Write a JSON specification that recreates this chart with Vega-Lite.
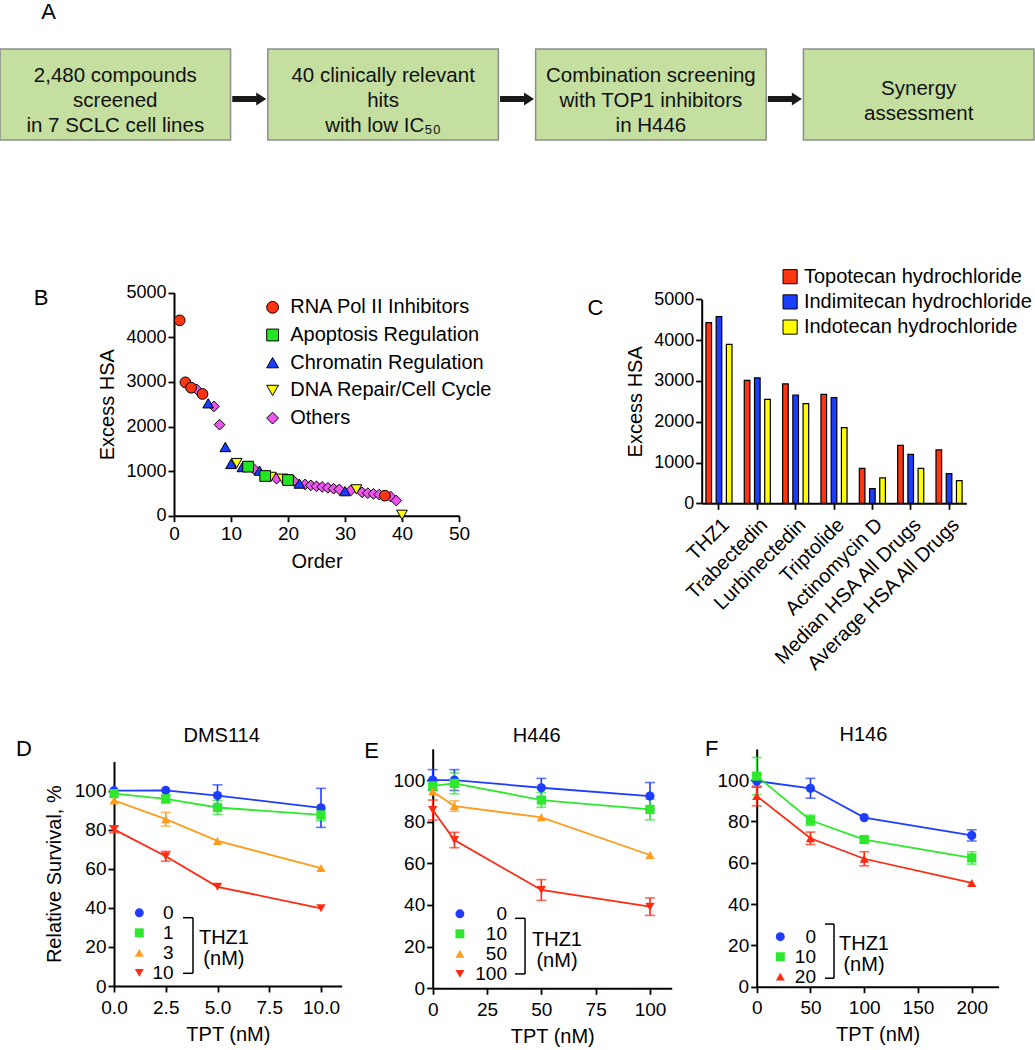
{
"$schema": "https://vega.github.io/schema/vega-lite/v6.json",
"width": 1035, "height": 1050,
"autosize": {"type": "none"},
"padding": 0,
"background": "white",
"config": {
  "view": {"stroke": null},
  "font": "Liberation Sans",
  "axis": {"domainColor": "black", "domainWidth": 2, "tickColor": "black", "tickWidth": 1.8, "tickSize": 6, "labelColor": "black", "titleColor": "black", "labelFont": "Liberation Sans", "titleFont": "Liberation Sans", "labelFontSize": 19, "titleFontSize": 20, "titleFontWeight": "normal", "grid": false, "labelPadding": 2, "labelFlush": false, "labelOverlap": false, "labelLimit": 400},
  "legend": {"labelFont": "Liberation Sans", "labelColor": "black", "padding": 0, "labelFontSize": 20, "labelLimit": 400, "symbolOpacity": 1},
  "text": {"font": "Liberation Sans", "color": "black"}
},
"datasets": {
  "flow": [
    {"step": "s1", "label": "2,480 compounds\nscreened\nin 7 SCLC cell lines"},
    {"step": "s2", "label": "40 clinically relevant\nhits\nwith low IC₅₀"},
    {"step": "s3", "label": "Combination screening\nwith TOP1 inhibitors\nin H446"},
    {"step": "s4", "label": "Synergy\nassessment"}
  ],
  "hits": [
    {"order": 4, "hsa": 2830, "cls": "Others"},
    {"order": 7, "hsa": 2450, "cls": "Others"},
    {"order": 8, "hsa": 2040, "cls": "Others"},
    {"order": 14, "hsa": 1050, "cls": "Others"},
    {"order": 18, "hsa": 830, "cls": "Others"},
    {"order": 21, "hsa": 780, "cls": "Others"},
    {"order": 23, "hsa": 700, "cls": "Others"},
    {"order": 24, "hsa": 680, "cls": "Others"},
    {"order": 25, "hsa": 660, "cls": "Others"},
    {"order": 26, "hsa": 645, "cls": "Others"},
    {"order": 27, "hsa": 625, "cls": "Others"},
    {"order": 28, "hsa": 605, "cls": "Others"},
    {"order": 29, "hsa": 590, "cls": "Others"},
    {"order": 31, "hsa": 565, "cls": "Others"},
    {"order": 33, "hsa": 525, "cls": "Others"},
    {"order": 34, "hsa": 505, "cls": "Others"},
    {"order": 35, "hsa": 490, "cls": "Others"},
    {"order": 36, "hsa": 475, "cls": "Others"},
    {"order": 38, "hsa": 430, "cls": "Others"},
    {"order": 39, "hsa": 340, "cls": "Others"},
    {"order": 11, "hsa": 1180, "cls": "DNA Repair/Cell Cycle"},
    {"order": 17, "hsa": 870, "cls": "DNA Repair/Cell Cycle"},
    {"order": 19, "hsa": 830, "cls": "DNA Repair/Cell Cycle"},
    {"order": 32, "hsa": 590, "cls": "DNA Repair/Cell Cycle"},
    {"order": 40, "hsa": 20, "cls": "DNA Repair/Cell Cycle"},
    {"order": 6, "hsa": 2520, "cls": "Chromatin Regulation"},
    {"order": 9, "hsa": 1540, "cls": "Chromatin Regulation"},
    {"order": 10, "hsa": 1160, "cls": "Chromatin Regulation"},
    {"order": 12, "hsa": 1090, "cls": "Chromatin Regulation"},
    {"order": 15, "hsa": 1010, "cls": "Chromatin Regulation"},
    {"order": 22, "hsa": 720, "cls": "Chromatin Regulation"},
    {"order": 30, "hsa": 550, "cls": "Chromatin Regulation"},
    {"order": 13, "hsa": 1100, "cls": "Apoptosis Regulation"},
    {"order": 16, "hsa": 890, "cls": "Apoptosis Regulation"},
    {"order": 20, "hsa": 800, "cls": "Apoptosis Regulation"},
    {"order": 1, "hsa": 4380, "cls": "RNA Pol II Inhibitors"},
    {"order": 2, "hsa": 2990, "cls": "RNA Pol II Inhibitors"},
    {"order": 3, "hsa": 2870, "cls": "RNA Pol II Inhibitors"},
    {"order": 5, "hsa": 2730, "cls": "RNA Pol II Inhibitors"},
    {"order": 37, "hsa": 450, "cls": "RNA Pol II Inhibitors"}
  ],
  "synergy": [
    {"drug": "THZ1", "inhibitor": "Topotecan hydrochloride", "hsa": 4428},
    {"drug": "THZ1", "inhibitor": "Indimitecan hydrochloride", "hsa": 4575},
    {"drug": "THZ1", "inhibitor": "Indotecan hydrochloride", "hsa": 3897},
    {"drug": "Trabectedin", "inhibitor": "Topotecan hydrochloride", "hsa": 3015},
    {"drug": "Trabectedin", "inhibitor": "Indimitecan hydrochloride", "hsa": 3072},
    {"drug": "Trabectedin", "inhibitor": "Indotecan hydrochloride", "hsa": 2549},
    {"drug": "Lurbinectedin", "inhibitor": "Topotecan hydrochloride", "hsa": 2925},
    {"drug": "Lurbinectedin", "inhibitor": "Indimitecan hydrochloride", "hsa": 2655},
    {"drug": "Lurbinectedin", "inhibitor": "Indotecan hydrochloride", "hsa": 2443},
    {"drug": "Triptolide", "inhibitor": "Topotecan hydrochloride", "hsa": 2672},
    {"drug": "Triptolide", "inhibitor": "Indimitecan hydrochloride", "hsa": 2590},
    {"drug": "Triptolide", "inhibitor": "Indotecan hydrochloride", "hsa": 1855},
    {"drug": "Actinomycin D", "inhibitor": "Topotecan hydrochloride", "hsa": 858},
    {"drug": "Actinomycin D", "inhibitor": "Indimitecan hydrochloride", "hsa": 359},
    {"drug": "Actinomycin D", "inhibitor": "Indotecan hydrochloride", "hsa": 621},
    {"drug": "Median HSA All Drugs", "inhibitor": "Topotecan hydrochloride", "hsa": 1422},
    {"drug": "Median HSA All Drugs", "inhibitor": "Indimitecan hydrochloride", "hsa": 1201},
    {"drug": "Median HSA All Drugs", "inhibitor": "Indotecan hydrochloride", "hsa": 858},
    {"drug": "Average HSA All Drugs", "inhibitor": "Topotecan hydrochloride", "hsa": 1307},
    {"drug": "Average HSA All Drugs", "inhibitor": "Indimitecan hydrochloride", "hsa": 727},
    {"drug": "Average HSA All Drugs", "inhibitor": "Indotecan hydrochloride", "hsa": 556}
  ],
  "dms114": [
    {"tpt": 0, "thz": "0", "surv": 100, "err": 0},
    {"tpt": 2.5, "thz": "0", "surv": 100.2, "err": 0},
    {"tpt": 5, "thz": "0", "surv": 97.5, "err": 5.5},
    {"tpt": 10, "thz": "0", "surv": 91.2, "err": 10},
    {"tpt": 0, "thz": "1", "surv": 98.5, "err": 0},
    {"tpt": 2.5, "thz": "1", "surv": 95.8, "err": 2},
    {"tpt": 5, "thz": "1", "surv": 91.4, "err": 3.5},
    {"tpt": 10, "thz": "1", "surv": 87.6, "err": 3},
    {"tpt": 0, "thz": "3", "surv": 95, "err": 0},
    {"tpt": 2.5, "thz": "3", "surv": 85.4, "err": 3.5},
    {"tpt": 5, "thz": "3", "surv": 74.3, "err": 0},
    {"tpt": 10, "thz": "3", "surv": 60.4, "err": 0},
    {"tpt": 0, "thz": "10", "surv": 80.2, "err": 1.8},
    {"tpt": 2.5, "thz": "10", "surv": 66.4, "err": 2.5},
    {"tpt": 5, "thz": "10", "surv": 50.8, "err": 0},
    {"tpt": 10, "thz": "10", "surv": 39.8, "err": 0}
  ],
  "h446": [
    {"tpt": 0, "thz": "0", "surv": 100, "err": 5},
    {"tpt": 10, "thz": "0", "surv": 100, "err": 5},
    {"tpt": 50, "thz": "0", "surv": 96.3, "err": 4.5},
    {"tpt": 100, "thz": "0", "surv": 92.3, "err": 6.5},
    {"tpt": 0, "thz": "10", "surv": 97.2, "err": 2},
    {"tpt": 10, "thz": "10", "surv": 98.4, "err": 5},
    {"tpt": 50, "thz": "10", "surv": 90.4, "err": 3.5},
    {"tpt": 100, "thz": "10", "surv": 85.9, "err": 5},
    {"tpt": 0, "thz": "50", "surv": 94.5, "err": 0},
    {"tpt": 10, "thz": "50", "surv": 87.5, "err": 2.5},
    {"tpt": 50, "thz": "50", "surv": 82.1, "err": 0},
    {"tpt": 100, "thz": "50", "surv": 64, "err": 0},
    {"tpt": 0, "thz": "100", "surv": 85.6, "err": 4.8},
    {"tpt": 10, "thz": "100", "surv": 71.2, "err": 3.7},
    {"tpt": 50, "thz": "100", "surv": 47.2, "err": 5},
    {"tpt": 100, "thz": "100", "surv": 39.2, "err": 4.2}
  ],
  "h146": [
    {"tpt": 0, "thz": "0", "surv": 99.5, "err": 3},
    {"tpt": 50, "thz": "0", "surv": 96, "err": 4.8},
    {"tpt": 100, "thz": "0", "surv": 81.8, "err": 0},
    {"tpt": 200, "thz": "0", "surv": 73.2, "err": 2.7},
    {"tpt": 0, "thz": "10", "surv": 101.9, "err": 9},
    {"tpt": 50, "thz": "10", "surv": 80.5, "err": 2.5},
    {"tpt": 100, "thz": "10", "surv": 71.2, "err": 1.5},
    {"tpt": 200, "thz": "10", "surv": 62.3, "err": 3},
    {"tpt": 0, "thz": "20", "surv": 92.3, "err": 4.8},
    {"tpt": 50, "thz": "20", "surv": 71.8, "err": 3},
    {"tpt": 100, "thz": "20", "surv": 61.9, "err": 3.4},
    {"tpt": 200, "thz": "20", "surv": 50.2, "err": 0}
  ]
},
"resolve": {
  "scale": {"x": "independent", "y": "independent", "color": "independent", "shape": "independent"},
  "axis": {"x": "independent", "y": "independent"},
  "legend": {"color": "independent", "shape": "independent"}
},
"layer": [
  {
    "data": {"name": "flow"},
    "layer": [
      {
        "mark": {"type": "bar", "fill": "#c4df9f", "stroke": "#8e8e8e", "strokeWidth": 1.5},
        "encoding": {
          "x": {"field": "step", "type": "nominal", "axis": null, "scale": {"type": "band", "domain": ["s1", "s2", "s3", "s4"], "range": [0, 1034], "paddingInner": 0.139, "paddingOuter": 0}},
          "y": {"datum": 0, "type": "quantitative", "axis": null, "scale": {"domain": [0, 1], "range": [140, 49], "nice": false, "zero": false}},
          "y2": {"datum": 1}
        }
      },
      {
        "transform": [{"filter": "datum.step != 's4'"}],
        "mark": {"type": "text", "fontSize": 20.5, "lineBreak": "\n", "lineHeight": 25, "baseline": "middle", "align": "center", "color": "#111111"},
        "encoding": {"x": {"field": "step", "type": "nominal"}, "text": {"field": "label"}, "y": {"datum": 0.701, "type": "quantitative"}}
      },
      {
        "transform": [{"filter": "datum.step == 's4'"}],
        "mark": {"type": "text", "fontSize": 20.5, "lineBreak": "\n", "lineHeight": 25, "baseline": "middle", "align": "center", "color": "#111111"},
        "encoding": {"x": {"field": "step", "type": "nominal"}, "text": {"field": "label"}, "y": {"datum": 0.558, "type": "quantitative"}}
      },
      {
        "transform": [{"filter": "datum.step != 's4'"}],
        "mark": {"type": "point", "shape": "M-1,-0.18L0.41,-0.18L0.41,-0.38L1,0L0.41,0.38L0.41,0.18L-1,0.18Z", "size": 1156, "filled": true, "color": "#1a1a1a", "opacity": 1, "strokeWidth": 0},
        "encoding": {"x": {"field": "step", "type": "nominal", "bandPosition": 1.081}, "y": {"datum": 0.45, "type": "quantitative"}}
      },
      {
        "data": {"values": [{}]},
        "mark": {"type": "text", "text": "A", "fontSize": 22, "dx": 48.5, "baseline": "middle", "align": "center"},
        "encoding": {"x": {"datum": "s1", "type": "nominal", "bandPosition": 0}, "y": {"datum": 1.4066, "type": "quantitative"}}
      }
    ]
  },
  {
    "data": {"name": "hits"},
    "layer": [
      {
        "mark": {"type": "point", "filled": true, "stroke": "black", "strokeWidth": 1, "size": 115, "opacity": 1},
        "encoding": {
          "x": {"field": "order", "type": "quantitative", "scale": {"domain": [0, 50], "range": [174, 459], "nice": false, "zero": false},
                "axis": {"orient": "bottom", "offset": -534.3, "values": [0, 10, 20, 30, 40, 50], "title": "Order", "labelPadding": 3, "titlePadding": 8, "labelFontSize": 19}},
          "y": {"field": "hsa", "type": "quantitative", "scale": {"domain": [0, 5000], "range": [515.7, 292.7], "nice": false},
                "axis": {"orient": "left", "offset": -174, "values": [0, 1000, 2000, 3000, 4000, 5000], "format": "d", "title": "Excess  HSA", "titlePadding": 8, "labelFontSize": 18}},
          "color": {"field": "cls", "type": "nominal",
            "scale": {"domain": ["RNA Pol II Inhibitors", "Apoptosis Regulation", "Chromatin Regulation", "DNA Repair/Cell Cycle", "Others"], "range": ["#ff3511", "#22e622", "#1a3dff", "#ffff00", "#ee55ee"]},
            "legend": {"orient": "none", "legendX": 262.6, "legendY": 297.3, "title": null, "labelFontSize": 20, "symbolSize": 140, "labelOffset": 7.6, "rowPadding": 7.7, "symbolStrokeColor": "black", "symbolStrokeWidth": 1}},
          "shape": {"field": "cls", "type": "nominal",
            "scale": {"domain": ["RNA Pol II Inhibitors", "Apoptosis Regulation", "Chromatin Regulation", "DNA Repair/Cell Cycle", "Others"], "range": ["circle", "square", "triangle-up", "triangle-down", "diamond"]}}
        }
      },
      {
        "data": {"values": [{}]},
        "mark": {"type": "text", "text": "B", "fontSize": 22, "baseline": "middle", "align": "center"},
        "encoding": {"x": {"datum": -23.33, "type": "quantitative"}, "y": {"datum": 4888, "type": "quantitative"}}
      }
    ]
  },
  {
    "data": {"name": "synergy"},
    "layer": [
      {
        "mark": {"type": "bar", "stroke": "black", "strokeWidth": 1.2},
        "encoding": {
          "x": {"field": "drug", "type": "nominal",
                "scale": {"type": "band", "domain": ["THZ1", "Trabectedin", "Lurbinectedin", "Triptolide", "Actinomycin D", "Median HSA All Drugs", "Average HSA All Drugs"], "range": [701.7, 966.3], "paddingInner": 0.2, "paddingOuter": 0.05},
                "axis": {"orient": "bottom", "offset": -546.7, "title": null, "labelAngle": -45, "labelFontSize": 20, "labelPadding": 5}},
          "y": {"field": "hsa", "type": "quantitative", "scale": {"domain": [0, 5000], "range": [503.3, 299.3], "nice": false},
                "axis": {"orient": "left", "offset": -701.7, "values": [0, 1000, 2000, 3000, 4000, 5000], "format": "d", "title": "Excess  HSA", "titlePadding": 8, "labelFontSize": 18}},
          "xOffset": {"field": "inhibitor", "type": "nominal", "scale": {"domain": ["Topotecan hydrochloride", "Indimitecan hydrochloride", "Indotecan hydrochloride"], "paddingInner": 0.45, "paddingOuter": 0.225}},
          "color": {"field": "inhibitor", "type": "nominal",
            "scale": {"domain": ["Topotecan hydrochloride", "Indimitecan hydrochloride", "Indotecan hydrochloride"], "range": ["#ff3511", "#1a3dff", "#ffff00"]},
            "legend": {"orient": "none", "legendX": 780.1, "legendY": 266.7, "title": null, "labelFontSize": 20, "symbolType": "square", "symbolSize": 200, "labelOffset": 3.8, "rowPadding": 5.2, "symbolStrokeColor": "black", "symbolStrokeWidth": 1}}
        }
      },
      {
        "data": {"values": [{}]},
        "mark": {"type": "text", "text": "C", "fontSize": 22, "baseline": "middle", "align": "center", "dx": -123.5},
        "encoding": {"x": {"datum": "THZ1", "type": "nominal"}, "y": {"datum": 4794, "type": "quantitative"}}
      }
    ]
  },
  {
    "data": {"name": "dms114"},
    "layer": [
      {"mark": {"type": "line", "strokeWidth": 1.8},
       "encoding": {
         "x": {"field": "tpt", "type": "quantitative", "title": "TPT (nM)", "scale": {"domain": [0, 11], "range": [114, 341.7], "nice": false, "zero": false},
               "axis": {"orient": "bottom", "offset": -64, "values": [0, 2.5, 5, 7.5, 10], "format": ".1f", "title": "TPT (nM)", "labelPadding": 6, "titlePadding": 7}},
         "y": {"field": "surv", "type": "quantitative", "title": "Relative Survival, %", "scale": {"domain": [0, 115], "range": [986, 761.4], "nice": false},
               "axis": {"orient": "left", "offset": -114, "values": [0, 20, 40, 60, 80, 100], "title": "Relative Survival, %", "titlePadding": 10}},
         "color": {"field": "thz", "type": "nominal", "scale": {"domain": ["0", "1", "3", "10"], "range": ["#1f3dff", "#2ee82e", "#ff9c1c", "#ff2a12"]},
           "legend": {"orient": "none", "legendX": 129.8, "legendY": 903.3, "title": null, "labelFontSize": 19, "labelAlign": "right", "labelOffset": 24.8, "rowPadding": -0.6, "symbolSize": 80, "symbolStrokeWidth": 0}}}},
      {"transform": [{"filter": "datum.err > 0"}],
       "mark": {"type": "errorbar", "thickness": 1.6, "ticks": {"size": 10, "thickness": 1.6}},
       "encoding": {"x": {"field": "tpt", "type": "quantitative", "title": "TPT (nM)"}, "y": {"field": "surv", "type": "quantitative", "title": "Relative Survival, %"}, "yError": {"field": "err"},
         "color": {"field": "thz", "type": "nominal",
           "legend": {"orient": "none", "legendX": 129.8, "legendY": 903.3, "title": null, "labelFontSize": 19, "labelAlign": "right", "labelOffset": 24.8, "rowPadding": -0.6, "symbolSize": 80, "symbolStrokeWidth": 0}}}},
      {"mark": {"type": "point", "filled": true, "opacity": 1, "size": 85},
       "encoding": {"x": {"field": "tpt", "type": "quantitative", "title": "TPT (nM)"}, "y": {"field": "surv", "type": "quantitative", "title": "Relative Survival, %"},
         "color": {"field": "thz", "type": "nominal", "legend": {"orient": "none", "legendX": 129.8, "legendY": 903.3, "title": null, "labelFontSize": 19, "labelAlign": "right", "labelOffset": 24.8, "rowPadding": -0.6, "symbolSize": 80, "symbolStrokeWidth": 0}},
         "shape": {"field": "thz", "type": "nominal", "scale": {"domain": ["0", "1", "3", "10"], "range": ["circle", "square", "triangle-up", "triangle-down"]},
           "legend": {"orient": "none", "legendX": 129.8, "legendY": 903.3, "title": null, "labelFontSize": 19, "labelAlign": "right", "labelOffset": 24.8, "rowPadding": -0.6, "symbolSize": 80, "symbolStrokeWidth": 0}}}},
      {"data": {"values": [{}]}, "mark": {"type": "rule", "strokeWidth": 1.5, "color": "black"},
       "encoding": {"x": {"datum": 3.816, "type": "quantitative"}, "y": {"datum": 34.97, "type": "quantitative"}, "y2": {"datum": 6.5}}},
      {"data": {"values": [{}]}, "mark": {"type": "rule", "strokeWidth": 1.5, "color": "black"},
       "encoding": {"x": {"datum": 3.333, "type": "quantitative"}, "x2": {"datum": 3.816}, "y": {"datum": 34.97, "type": "quantitative"}}},
      {"data": {"values": [{}]}, "mark": {"type": "rule", "strokeWidth": 1.5, "color": "black"},
       "encoding": {"x": {"datum": 3.333, "type": "quantitative"}, "x2": {"datum": 3.816}, "y": {"datum": 6.5, "type": "quantitative"}}},
      {"data": {"values": [{}]}, "mark": {"type": "text", "text": "THZ1\n(nM)", "lineBreak": "\n", "lineHeight": 21, "fontSize": 20, "align": "center", "baseline": "middle"},
       "encoding": {"x": {"datum": 5.31, "type": "quantitative"}, "y": {"datum": 24.6, "type": "quantitative"}}},
      {"data": {"values": [{}]}, "mark": {"type": "text", "text": "DMS114", "fontSize": 20, "align": "center", "baseline": "middle"},
       "encoding": {"x": {"datum": 5.2, "type": "quantitative"}, "y": {"datum": 127.9, "type": "quantitative"}}},
      {"data": {"values": [{}]}, "mark": {"type": "text", "text": "D", "fontSize": 22, "align": "center", "baseline": "middle"},
       "encoding": {"x": {"datum": -4.35, "type": "quantitative"}, "y": {"datum": 121.2, "type": "quantitative"}}}
    ]
  },
  {
    "data": {"name": "h446"},
    "layer": [
      {"mark": {"type": "line", "strokeWidth": 1.8},
       "encoding": {
         "x": {"field": "tpt", "type": "quantitative", "title": "TPT (nM)", "scale": {"domain": [0, 110], "range": [432.7, 671.7], "nice": false, "zero": false},
               "axis": {"orient": "bottom", "offset": -61.7, "values": [0, 25, 50, 75, 100], "title": "TPT (nM)", "labelPadding": 6, "titlePadding": 7}},
         "y": {"field": "surv", "type": "quantitative", "title": null, "scale": {"domain": [0, 115], "range": [988.3, 748.8], "nice": false},
               "axis": {"orient": "left", "offset": -432.7, "values": [0, 20, 40, 60, 80, 100], "title": null}},
         "color": {"field": "thz", "type": "nominal", "scale": {"domain": ["0", "10", "50", "100"], "range": ["#1f3dff", "#2ee82e", "#ff9c1c", "#ff2a12"]},
           "legend": {"orient": "none", "legendX": 450.4, "legendY": 904.3, "title": null, "labelFontSize": 19, "labelAlign": "right", "labelOffset": 37.6, "rowPadding": -0.5, "symbolSize": 80, "symbolStrokeWidth": 0}}}},
      {"transform": [{"filter": "datum.err > 0"}],
       "mark": {"type": "errorbar", "thickness": 1.6, "ticks": {"size": 10, "thickness": 1.6}},
       "encoding": {"x": {"field": "tpt", "type": "quantitative", "title": "TPT (nM)"}, "y": {"field": "surv", "type": "quantitative", "title": null}, "yError": {"field": "err"},
         "color": {"field": "thz", "type": "nominal",
           "legend": {"orient": "none", "legendX": 450.4, "legendY": 904.3, "title": null, "labelFontSize": 19, "labelAlign": "right", "labelOffset": 37.6, "rowPadding": -0.5, "symbolSize": 80, "symbolStrokeWidth": 0}}}},
      {"mark": {"type": "point", "filled": true, "opacity": 1, "size": 85},
       "encoding": {"x": {"field": "tpt", "type": "quantitative", "title": "TPT (nM)"}, "y": {"field": "surv", "type": "quantitative", "title": null},
         "color": {"field": "thz", "type": "nominal", "legend": {"orient": "none", "legendX": 450.4, "legendY": 904.3, "title": null, "labelFontSize": 19, "labelAlign": "right", "labelOffset": 37.6, "rowPadding": -0.5, "symbolSize": 80, "symbolStrokeWidth": 0}},
         "shape": {"field": "thz", "type": "nominal", "scale": {"domain": ["0", "10", "50", "100"], "range": ["circle", "square", "triangle-up", "triangle-down"]},
           "legend": {"orient": "none", "legendX": 450.4, "legendY": 904.3, "title": null, "labelFontSize": 19, "labelAlign": "right", "labelOffset": 37.6, "rowPadding": -0.5, "symbolSize": 80, "symbolStrokeWidth": 0}}}},
      {"data": {"values": [{}]}, "mark": {"type": "rule", "strokeWidth": 1.5, "color": "black"},
       "encoding": {"x": {"datum": 42.5, "type": "quantitative"}, "y": {"datum": 33.6, "type": "quantitative"}, "y2": {"datum": 6.9}}},
      {"data": {"values": [{}]}, "mark": {"type": "rule", "strokeWidth": 1.5, "color": "black"},
       "encoding": {"x": {"datum": 37.9, "type": "quantitative"}, "x2": {"datum": 42.5}, "y": {"datum": 33.6, "type": "quantitative"}}},
      {"data": {"values": [{}]}, "mark": {"type": "rule", "strokeWidth": 1.5, "color": "black"},
       "encoding": {"x": {"datum": 37.9, "type": "quantitative"}, "x2": {"datum": 42.5}, "y": {"datum": 6.9, "type": "quantitative"}}},
      {"data": {"values": [{}]}, "mark": {"type": "text", "text": "THZ1\n(nM)", "lineBreak": "\n", "lineHeight": 21, "fontSize": 20, "align": "center", "baseline": "middle"},
       "encoding": {"x": {"datum": 57.2, "type": "quantitative"}, "y": {"datum": 23.2, "type": "quantitative"}}},
      {"data": {"values": [{}]}, "mark": {"type": "text", "text": "H446", "fontSize": 20, "align": "center", "baseline": "middle"},
       "encoding": {"x": {"datum": 47.9, "type": "quantitative"}, "y": {"datum": 121.0, "type": "quantitative"}}},
      {"data": {"values": [{}]}, "mark": {"type": "text", "text": "E", "fontSize": 22, "align": "center", "baseline": "middle"},
       "encoding": {"x": {"datum": -28.1, "type": "quantitative"}, "y": {"datum": 113.8, "type": "quantitative"}}}
    ]
  },
  {
    "data": {"name": "h146"},
    "layer": [
      {"mark": {"type": "line", "strokeWidth": 1.8},
       "encoding": {
         "x": {"field": "tpt", "type": "quantitative", "title": "TPT (nM)", "scale": {"domain": [0, 225], "range": [756.7, 998.6], "nice": false, "zero": false},
               "axis": {"orient": "bottom", "offset": -63.3, "values": [0, 50, 100, 150, 200], "title": "TPT (nM)", "labelPadding": 6, "titlePadding": 7}},
         "y": {"field": "surv", "type": "quantitative", "title": null, "scale": {"domain": [0, 115], "range": [986.7, 749], "nice": false},
               "axis": {"orient": "left", "offset": -756.7, "values": [0, 20, 40, 60, 80, 100], "title": null}},
         "color": {"field": "thz", "type": "nominal", "scale": {"domain": ["0", "10", "20"], "range": ["#1f3dff", "#2ee82e", "#ff2a12"]},
           "legend": {"orient": "none", "legendX": 770.8, "legendY": 927.2, "title": null, "labelFontSize": 19, "labelAlign": "right", "labelOffset": 26.2, "rowPadding": -0.8, "symbolSize": 80, "symbolStrokeWidth": 0}}}},
      {"transform": [{"filter": "datum.err > 0"}],
       "mark": {"type": "errorbar", "thickness": 1.6, "ticks": {"size": 10, "thickness": 1.6}},
       "encoding": {"x": {"field": "tpt", "type": "quantitative", "title": "TPT (nM)"}, "y": {"field": "surv", "type": "quantitative", "title": null}, "yError": {"field": "err"},
         "color": {"field": "thz", "type": "nominal",
           "legend": {"orient": "none", "legendX": 770.8, "legendY": 927.2, "title": null, "labelFontSize": 19, "labelAlign": "right", "labelOffset": 26.2, "rowPadding": -0.8, "symbolSize": 80, "symbolStrokeWidth": 0}}}},
      {"mark": {"type": "point", "filled": true, "opacity": 1, "size": 85},
       "encoding": {"x": {"field": "tpt", "type": "quantitative", "title": "TPT (nM)"}, "y": {"field": "surv", "type": "quantitative", "title": null},
         "color": {"field": "thz", "type": "nominal", "legend": {"orient": "none", "legendX": 770.8, "legendY": 927.2, "title": null, "labelFontSize": 19, "labelAlign": "right", "labelOffset": 26.2, "rowPadding": -0.8, "symbolSize": 80, "symbolStrokeWidth": 0}},
         "shape": {"field": "thz", "type": "nominal", "scale": {"domain": ["0", "10", "20"], "range": ["circle", "square", "triangle-up"]},
           "legend": {"orient": "none", "legendX": 770.8, "legendY": 927.2, "title": null, "labelFontSize": 19, "labelAlign": "right", "labelOffset": 26.2, "rowPadding": -0.8, "symbolSize": 80, "symbolStrokeWidth": 0}}}},
      {"data": {"values": [{}]}, "mark": {"type": "rule", "strokeWidth": 1.5, "color": "black"},
       "encoding": {"x": {"datum": 71.9, "type": "quantitative"}, "y": {"datum": 30.3, "type": "quantitative"}, "y2": {"datum": 4.1}}},
      {"data": {"values": [{}]}, "mark": {"type": "rule", "strokeWidth": 1.5, "color": "black"},
       "encoding": {"x": {"datum": 63.5, "type": "quantitative"}, "x2": {"datum": 71.9}, "y": {"datum": 30.3, "type": "quantitative"}}},
      {"data": {"values": [{}]}, "mark": {"type": "rule", "strokeWidth": 1.5, "color": "black"},
       "encoding": {"x": {"datum": 63.5, "type": "quantitative"}, "x2": {"datum": 71.9}, "y": {"datum": 4.1, "type": "quantitative"}}},
      {"data": {"values": [{}]}, "mark": {"type": "text", "text": "THZ1\n(nM)", "lineBreak": "\n", "lineHeight": 21, "fontSize": 20, "align": "center", "baseline": "middle"},
       "encoding": {"x": {"datum": 99.8, "type": "quantitative"}, "y": {"datum": 20.7, "type": "quantitative"}}},
      {"data": {"values": [{}]}, "mark": {"type": "text", "text": "H146", "fontSize": 20, "align": "center", "baseline": "middle"},
       "encoding": {"x": {"datum": 99.2, "type": "quantitative"}, "y": {"datum": 122.0, "type": "quantitative"}}},
      {"data": {"values": [{}]}, "mark": {"type": "text", "text": "F", "fontSize": 22, "align": "center", "baseline": "middle"},
       "encoding": {"x": {"datum": -41.9, "type": "quantitative"}, "y": {"datum": 114.8, "type": "quantitative"}}}
    ]
  }
]
}
